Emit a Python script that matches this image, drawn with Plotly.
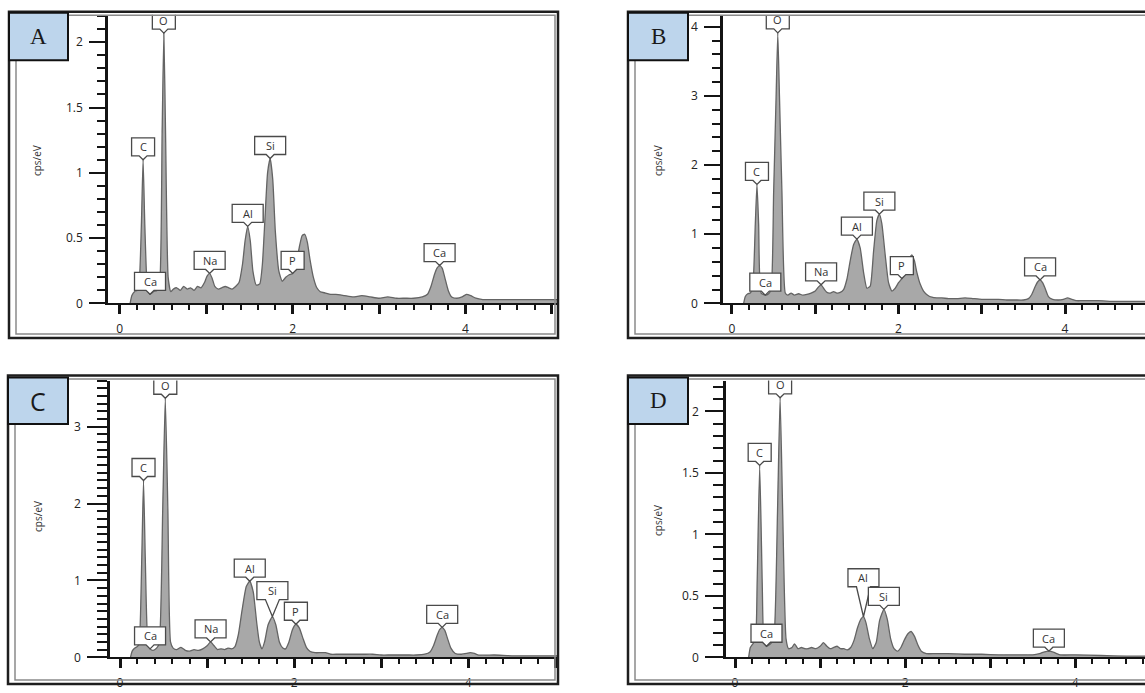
import numpy as np
import plotly.graph_objects as go

W, H = 1145, 693

# EDS spectra: (energy keV, counts cps/eV)
spectrum_a = [
    (0.12, 0.00), (0.14, 0.06), (0.17, 0.09), (0.20, 0.10), (0.22, 0.12), (0.25, 0.60),
    (0.27, 1.10), (0.29, 0.60), (0.32, 0.12), (0.35, 0.07), (0.39, 0.09), (0.43, 0.10),
    (0.46, 0.14), (0.49, 1.30), (0.51, 2.07), (0.53, 1.30), (0.56, 0.20), (0.59, 0.09),
    (0.62, 0.11), (0.66, 0.12), (0.70, 0.10), (0.74, 0.13), (0.78, 0.11), (0.82, 0.12),
    (0.86, 0.10), (0.90, 0.13), (0.94, 0.12), (0.98, 0.16), (1.01, 0.21), (1.04, 0.23),
    (1.07, 0.19), (1.10, 0.13), (1.14, 0.11), (1.18, 0.12), (1.22, 0.13), (1.26, 0.12),
    (1.30, 0.11), (1.34, 0.13), (1.38, 0.16), (1.42, 0.30), (1.45, 0.48), (1.48, 0.59),
    (1.51, 0.48), (1.54, 0.25), (1.58, 0.14), (1.62, 0.15), (1.65, 0.30), (1.68, 0.65),
    (1.71, 1.00), (1.74, 1.11), (1.77, 0.95), (1.80, 0.55), (1.84, 0.25), (1.88, 0.17),
    (1.92, 0.20), (1.96, 0.22), (2.00, 0.23), (2.04, 0.30), (2.08, 0.44), (2.11, 0.52),
    (2.14, 0.53), (2.17, 0.47), (2.20, 0.34), (2.24, 0.20), (2.28, 0.12), (2.32, 0.09),
    (2.38, 0.08), (2.44, 0.07), (2.50, 0.07), (2.60, 0.06), (2.70, 0.05), (2.80, 0.06),
    (2.90, 0.05), (3.00, 0.04), (3.10, 0.05), (3.20, 0.04), (3.30, 0.04), (3.40, 0.04),
    (3.50, 0.05), (3.56, 0.07), (3.60, 0.13), (3.64, 0.22), (3.67, 0.27), (3.70, 0.29),
    (3.73, 0.27), (3.76, 0.20), (3.80, 0.10), (3.84, 0.05), (3.90, 0.04), (3.96, 0.05),
    (4.01, 0.07), (4.06, 0.06), (4.12, 0.04), (4.20, 0.03), (4.40, 0.03), (4.60, 0.03),
    (4.80, 0.03), (5.07, 0.03),
]
spectrum_b = [
    (0.14, 0.00), (0.16, 0.10), (0.19, 0.14), (0.22, 0.15), (0.25, 0.25), (0.28, 1.15),
    (0.30, 1.72), (0.32, 1.15), (0.35, 0.15), (0.40, 0.12), (0.44, 0.14), (0.47, 0.20),
    (0.50, 1.60), (0.53, 3.00), (0.55, 3.91), (0.57, 3.00), (0.60, 1.60), (0.64, 0.15),
    (0.67, 0.12), (0.71, 0.15), (0.75, 0.12), (0.80, 0.14), (0.85, 0.12), (0.90, 0.13),
    (0.95, 0.15), (1.00, 0.18), (1.04, 0.24), (1.07, 0.27), (1.10, 0.22), (1.14, 0.16),
    (1.18, 0.15), (1.22, 0.17), (1.26, 0.15), (1.30, 0.16), (1.34, 0.20), (1.38, 0.35),
    (1.42, 0.62), (1.46, 0.85), (1.50, 0.93), (1.54, 0.80), (1.58, 0.45), (1.62, 0.22),
    (1.66, 0.25), (1.70, 0.75), (1.74, 1.20), (1.77, 1.29), (1.80, 1.15), (1.84, 0.70),
    (1.88, 0.30), (1.92, 0.18), (1.96, 0.22), (2.00, 0.30), (2.04, 0.36), (2.08, 0.45),
    (2.12, 0.62), (2.16, 0.70), (2.19, 0.62), (2.22, 0.45), (2.26, 0.28), (2.30, 0.18),
    (2.35, 0.12), (2.40, 0.09), (2.46, 0.08), (2.52, 0.08), (2.60, 0.07), (2.70, 0.07),
    (2.80, 0.08), (2.90, 0.07), (3.00, 0.06), (3.10, 0.06), (3.20, 0.06), (3.30, 0.05),
    (3.40, 0.05), (3.50, 0.05), (3.56, 0.07), (3.60, 0.13), (3.64, 0.24), (3.67, 0.31),
    (3.70, 0.34), (3.73, 0.30), (3.76, 0.22), (3.80, 0.10), (3.85, 0.06), (3.92, 0.05),
    (3.98, 0.06), (4.03, 0.08), (4.08, 0.06), (4.14, 0.04), (4.20, 0.04), (4.40, 0.04),
    (4.60, 0.03), (4.80, 0.03), (4.96, 0.03),
]
spectrum_c = [
    (0.12, 0.00), (0.14, 0.08), (0.17, 0.12), (0.20, 0.14), (0.22, 0.18), (0.25, 1.30),
    (0.27, 2.30), (0.29, 1.30), (0.32, 0.18), (0.345, 0.11), (0.38, 0.09), (0.42, 0.12),
    (0.45, 0.18), (0.49, 1.90), (0.52, 3.37), (0.55, 1.90), (0.58, 0.20), (0.61, 0.12),
    (0.65, 0.10), (0.70, 0.13), (0.75, 0.09), (0.80, 0.08), (0.85, 0.10), (0.90, 0.09),
    (0.95, 0.11), (1.00, 0.15), (1.04, 0.20), (1.08, 0.15), (1.12, 0.10), (1.16, 0.11),
    (1.20, 0.10), (1.24, 0.12), (1.28, 0.11), (1.32, 0.14), (1.36, 0.30), (1.40, 0.60),
    (1.45, 0.92), (1.49, 0.99), (1.53, 0.85), (1.57, 0.45), (1.60, 0.20), (1.63, 0.11),
    (1.66, 0.20), (1.70, 0.42), (1.75, 0.53), (1.79, 0.42), (1.83, 0.20), (1.87, 0.12),
    (1.90, 0.11), (1.94, 0.20), (1.98, 0.36), (2.02, 0.43), (2.06, 0.38), (2.10, 0.25),
    (2.14, 0.13), (2.18, 0.08), (2.24, 0.06), (2.30, 0.06), (2.36, 0.06), (2.42, 0.04),
    (2.50, 0.04), (2.60, 0.04), (2.70, 0.04), (2.80, 0.04), (2.90, 0.04), (3.00, 0.03),
    (3.10, 0.03), (3.20, 0.03), (3.30, 0.03), (3.40, 0.03), (3.50, 0.04), (3.56, 0.07),
    (3.60, 0.15), (3.64, 0.28), (3.67, 0.36), (3.70, 0.39), (3.73, 0.35), (3.76, 0.25),
    (3.80, 0.12), (3.85, 0.05), (3.92, 0.04), (3.98, 0.05), (4.02, 0.06), (4.07, 0.05),
    (4.12, 0.03), (4.30, 0.03), (4.50, 0.02), (4.70, 0.02), (4.90, 0.02), (5.03, 0.02),
]
spectrum_d = [
    (0.16, 0.00), (0.18, 0.08), (0.21, 0.11), (0.24, 0.14), (0.26, 0.60), (0.29, 1.56),
    (0.32, 0.60), (0.34, 0.13), (0.37, 0.09), (0.40, 0.10), (0.43, 0.12), (0.46, 0.18),
    (0.50, 1.20), (0.53, 2.11), (0.56, 1.20), (0.60, 0.15), (0.63, 0.07), (0.67, 0.08),
    (0.70, 0.11), (0.74, 0.07), (0.78, 0.08), (0.82, 0.07), (0.86, 0.07), (0.90, 0.08),
    (0.95, 0.07), (1.00, 0.09), (1.04, 0.12), (1.08, 0.09), (1.12, 0.07), (1.16, 0.08),
    (1.20, 0.09), (1.24, 0.07), (1.28, 0.07), (1.32, 0.06), (1.36, 0.08), (1.40, 0.14),
    (1.44, 0.24), (1.48, 0.31), (1.51, 0.33), (1.54, 0.28), (1.58, 0.15), (1.62, 0.07),
    (1.66, 0.12), (1.70, 0.30), (1.75, 0.39), (1.79, 0.31), (1.83, 0.15), (1.87, 0.07),
    (1.91, 0.05), (1.95, 0.08), (1.99, 0.14), (2.03, 0.19), (2.07, 0.21), (2.11, 0.17),
    (2.15, 0.10), (2.19, 0.05), (2.25, 0.03), (2.35, 0.03), (2.50, 0.03), (2.70, 0.025),
    (2.90, 0.025), (3.10, 0.02), (3.30, 0.02), (3.50, 0.02), (3.58, 0.03), (3.64, 0.045),
    (3.69, 0.05), (3.75, 0.04), (3.82, 0.02), (4.00, 0.02), (4.30, 0.015), (4.60, 0.01),
    (4.82, 0.01),
]

# identified peaks: element label and the energy it marks
peaks_a = ["Ca", "C", "O", "Na", "Al", "Si", "P", "Ca"]
peak_kev_a = [0.35, 0.27, 0.51, 1.04, 1.48, 1.74, 2.00, 3.70]
peaks_b = ["Ca", "C", "O", "Na", "Al", "Si", "P", "Ca"]
peak_kev_b = [0.40, 0.30, 0.55, 1.07, 1.50, 1.77, 2.04, 3.70]
peaks_c = ["Ca", "C", "O", "Na", "Al", "Si", "P", "Ca"]
peak_kev_c = [0.345, 0.27, 0.52, 1.04, 1.49, 1.75, 2.02, 3.70]
peaks_d = ["Ca", "C", "O", "Al", "Si", "Ca"]
peak_kev_d = [0.37, 0.29, 0.53, 1.51, 1.75, 3.69]

panel_letters = ["A", "B", "C", "D"]
y_ticks_a = [0, 0.5, 1, 1.5, 2]
y_ticks_b = [0, 1, 2, 3, 4]
y_ticks_c = [0, 1, 2, 3]
y_ticks_d = [0, 0.5, 1, 1.5, 2]
x_ticks = [0, 1, 2, 3, 4, 5]
x_tick_text = ["0", "", "2", "", "4", ""]
y_title = "cps/eV"

# page geometry in pixels for each panel
panels = [
    dict(spec=spectrum_a, names=peaks_a, kev=peak_kev_a, yt=y_ticks_a, minor=0.1,
         frame=(9, 12, 558, 342), box=(9, 13, 68, 61), plot=(108, 15, 558, 307),
         xr=(-0.136, 5.07), ytop=2.21, title=(37, 163), serif=True, tlen=(16, 8),
         long_ptr={}),
    dict(spec=spectrum_b, names=peaks_b, kev=peak_kev_b, yt=y_ticks_b, minor=0.2,
         frame=(628, 12, 1160, 342), box=(628, 13, 688, 61), plot=(723, 16, 1145, 307),
         xr=(-0.108, 4.96), ytop=4.157, title=(658, 163), serif=True, tlen=(16, 8),
         long_ptr={}),
    dict(spec=spectrum_c, names=peaks_c, kev=peak_kev_c, yt=y_ticks_c, minor=0.1,
         frame=(8, 380, 558, 692), box=(8, 382, 68, 429), plot=(110, 385, 558, 665),
         xr=(-0.115, 5.03), ytop=3.6, title=(38, 523), serif=False, tlen=(20, 10),
         long_ptr={5: 17}),
    dict(spec=spectrum_d, names=peaks_d, kev=peak_kev_d, yt=y_ticks_d, minor=0.1,
         frame=(628, 380, 1160, 692), box=(628, 382, 688, 429), plot=(726, 385, 1145, 665),
         xr=(-0.106, 4.82), ytop=2.25, title=(658, 527), serif=True, tlen=(18, 10),
         long_ptr={3: 30}),
]


def px(x):
    return x / W


def py(y):
    return 1 - y / H


def callout_path(w, h, h0, v):
    return (f"M {-w / 2},{h0} L {-v},{h0} L 0,0 L {v},{h0} L {w / 2},{h0} "
            f"L {w / 2},{h0 + h} L {-w / 2},{h0 + h} Z")


fig = go.Figure()
shapes = []
annotations = []
sans = "Open Sans, Arial, sans-serif"
axis_font = dict(family=sans, size=12, color="#222222")
ink = "#141414"

for i, p in enumerate(panels):
    n = "" if i == 0 else str(i + 1)
    xa, ya = "x" + n, "y" + n
    energy = [e for e, _ in p["spec"]]
    counts = [c for _, c in p["spec"]]

    fig.add_trace(go.Scatter(
        x=energy, y=counts, mode="lines", fill="tozeroy", fillcolor="#a8a8a8",
        line=dict(color="#646464", width=1.3, shape="spline", smoothing=0.5),
        xaxis=xa, yaxis=ya, hoverinfo="skip", showlegend=False,
    ))

    x0, y0, x1, y1 = p["plot"]
    fig.update_layout(**{
        "xaxis" + n: dict(
            domain=[px(x0), px(x1)], range=list(p["xr"]), anchor=ya,
            showline=True, linecolor=ink, linewidth=2, showgrid=False, zeroline=False,
            ticks="outside", ticklen=9, tickwidth=2.5, tickcolor=ink,
            tickvals=x_ticks, ticktext=x_tick_text, tickfont=axis_font,
            ticklabelstandoff=4,
            minor=dict(dtick=0.2, tick0=0, ticks="outside", ticklen=5, tickwidth=2,
                       tickcolor=ink, showgrid=False),
            fixedrange=True,
        ),
        "yaxis" + n: dict(
            domain=[py(y1), py(y0)], range=[0, p["ytop"]], anchor=xa,
            showline=True, linecolor=ink, linewidth=2.5, showgrid=False, zeroline=False,
            ticks="outside", ticklen=p["tlen"][0], tickwidth=2, tickcolor=ink,
            tickvals=p["yt"], ticktext=[f"{t:g}" for t in p["yt"]], tickfont=axis_font,
            ticklabelstandoff=4,
            minor=dict(dtick=p["minor"], tick0=0, ticks="outside", ticklen=p["tlen"][1],
                       tickwidth=2, tickcolor=ink, showgrid=False),
            fixedrange=True,
        ),
    })

    # peak callouts
    for k, (name, e) in enumerate(zip(p["names"], p["kev"])):
        v = float(np.interp(e, energy, counts))
        h0 = p["long_ptr"].get(k, 4)
        vw = 7 if h0 > 8 else 4
        w = 15 + 8 * len(name)
        h = 18
        shapes.append(dict(
            type="path", xref=xa, yref=ya, xsizemode="pixel", ysizemode="pixel",
            xanchor=e, yanchor=v, path=callout_path(w, h, h0, vw),
            fillcolor="white", line=dict(color="#4a4a4a", width=1.3), layer="above",
        ))
        annotations.append(dict(
            x=e, y=v, xref=xa, yref=ya, text=name, showarrow=False,
            xanchor="center", yanchor="middle", yshift=h0 + h / 2,
            font=dict(family=sans, size=11, color="#333333"),
        ))

    # double panel frame
    fx0, fy0, fx1, fy1 = p["frame"]
    shapes.append(dict(type="rect", xref="paper", yref="paper",
                       x0=px(fx0), x1=px(fx1), y0=py(fy1), y1=py(fy0),
                       line=dict(color="#1e1e1e", width=2.5), layer="above"))
    shapes.append(dict(type="rect", xref="paper", yref="paper",
                       x0=px(fx0 + 7), x1=px(fx1 - 3), y0=py(fy1 - 4), y1=py(fy0 + 3.5),
                       line=dict(color="#8a8a8a", width=1.5), layer="above"))

    # panel letter box
    bx0, by0, bx1, by1 = p["box"]
    shapes.append(dict(type="rect", xref="paper", yref="paper",
                       x0=px(bx0), x1=px(bx1), y0=py(by1), y1=py(by0),
                       fillcolor="#bdd5ec", line=dict(color="#111111", width=2),
                       layer="above"))
    annotations.append(dict(
        x=px((bx0 + bx1) / 2), y=py((by0 + by1) / 2), xref="paper", yref="paper",
        xanchor="center", yanchor="middle",
        text=panel_letters[i], showarrow=False,
        font=dict(family="Liberation Serif, Times New Roman, serif", size=23, color="#1a1a1a")
        if p["serif"] else
        dict(family=sans, size=25, color="#1a1a1a"),
    ))

    # y-axis title
    tx, ty = p["title"]
    annotations.append(dict(
        x=px(tx), y=py(ty), xref="paper", yref="paper", text=y_title, showarrow=False,
        xanchor="center", yanchor="middle", textangle=-90,
        font=dict(family=sans, size=10, color="#333333"),
    ))

fig.update_layout(
    width=W, height=H, margin=dict(l=0, r=0, t=0, b=0),
    paper_bgcolor="white", plot_bgcolor="white",
    shapes=shapes, annotations=annotations, showlegend=False,
)

fig.write_html("out.html")
